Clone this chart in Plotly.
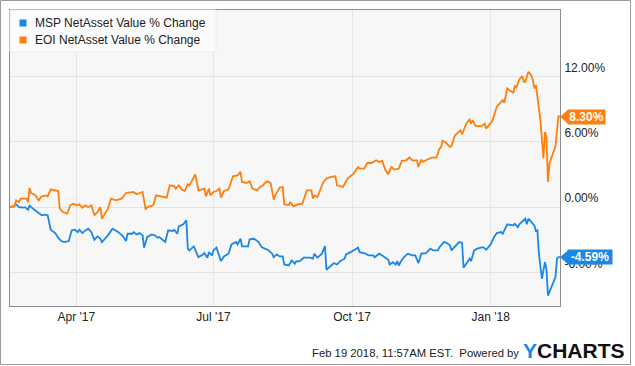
import plotly.graph_objects as go

# ---- data ----
eoi_dates = [
    "2017-02-16","2017-02-19","2017-02-20","2017-02-22","2017-02-23","2017-02-27","2017-02-28","2017-03-01",
    "2017-03-02","2017-03-05","2017-03-07","2017-03-09","2017-03-12","2017-03-13","2017-03-15","2017-03-19",
    "2017-03-20","2017-03-21","2017-03-23","2017-03-26","2017-03-28","2017-03-30","2017-04-01","2017-04-03",
    "2017-04-05","2017-04-07","2017-04-09","2017-04-11","2017-04-13","2017-04-15","2017-04-17","2017-04-18",
    "2017-04-20","2017-04-22","2017-04-24","2017-04-27","2017-05-01","2017-05-04","2017-05-09","2017-05-11",
    "2017-05-13","2017-05-15","2017-05-17","2017-05-18","2017-05-20","2017-05-22","2017-05-24","2017-05-28",
    "2017-05-31","2017-06-02","2017-06-05","2017-06-06","2017-06-08","2017-06-10","2017-06-12","2017-06-14",
    "2017-06-15","2017-06-19","2017-06-21","2017-06-23","2017-06-25","2017-06-26","2017-06-28","2017-06-29",
    "2017-07-01","2017-07-03","2017-07-05","2017-07-06","2017-07-08","2017-07-11","2017-07-14","2017-07-17",
    "2017-07-19","2017-07-20","2017-07-23","2017-07-25","2017-07-27","2017-07-30","2017-08-01","2017-08-03",
    "2017-08-04","2017-08-06","2017-08-08","2017-08-10","2017-08-11","2017-08-14","2017-08-16","2017-08-17",
    "2017-08-20","2017-08-21","2017-08-23","2017-08-26","2017-08-29","2017-09-01","2017-09-04","2017-09-05",
    "2017-09-06","2017-09-08","2017-09-12","2017-09-14","2017-09-17","2017-09-20","2017-09-21","2017-09-25",
    "2017-09-28","2017-10-02","2017-10-05","2017-10-06","2017-10-09","2017-10-11","2017-10-14","2017-10-17",
    "2017-10-19","2017-10-21","2017-10-23","2017-10-25","2017-10-27","2017-10-29","2017-11-01","2017-11-03",
    "2017-11-06","2017-11-08","2017-11-10","2017-11-13","2017-11-14","2017-11-16","2017-11-17","2017-11-20",
    "2017-11-23","2017-11-26","2017-11-28","2017-11-29","2017-11-30","2017-12-02","2017-12-05","2017-12-06",
    "2017-12-08","2017-12-10","2017-12-12","2017-12-13","2017-12-16","2017-12-18","2017-12-19","2017-12-20",
    "2017-12-22","2017-12-26","2017-12-28","2017-12-29","2017-12-31","2018-01-02","2018-01-05","2018-01-07",
    "2018-01-08","2018-01-09","2018-01-10","2018-01-12","2018-01-14","2018-01-16","2018-01-17","2018-01-18",
    "2018-01-20","2018-01-22","2018-01-23","2018-01-24","2018-01-26","2018-01-28","2018-01-29","2018-01-30",
    "2018-01-31","2018-02-03","2018-02-05","2018-02-06","2018-02-07","2018-02-08","2018-02-09","2018-02-11",
    "2018-02-13","2018-02-15","2018-02-16",
]
eoi_nav = [
    0.00, 0.07, 0.62, 0.47, 0.78, 0.78, 0.47, 1.76,
    1.30, 1.08, 0.62, 0.99, 1.08, 0.99, 1.64, 1.54,
    1.48, -0.14, -0.45, -0.60, 0.17, 0.32, 0.17, 0.26,
    -0.05, 0.17, 0.00, 0.17, -0.75, -0.45, 0.00, -1.06,
    -0.60, -0.14, 0.78, 0.62, 0.78, 1.30, 1.39, 1.18,
    1.30, 1.39, -0.23, 0.00, 0.10, 0.17, 1.08, 0.99,
    0.87, 2.00, 1.94, 1.70, 2.00, 1.61, 1.48, 2.10,
    1.98, 3.00, 1.54, 1.61, 1.70, 0.99, 1.70, 1.08,
    1.39, 1.48, 1.70, 0.87, 1.48, 1.64, 2.83, 2.92,
    3.23, 2.31, 2.22, 2.37, 1.70, 1.54, 1.85, 2.00,
    2.22, 2.37, 2.22, 0.69, 1.08, 1.79, 1.85, 0.26,
    0.17, 0.47, 0.07, 0.26, 0.32, 1.54, 1.54, 0.78,
    1.08, 0.93, 2.31, 2.62, 2.77, 2.83, 2.00, 1.85,
    2.62, 3.08, 3.69, 3.54, 3.54, 4.05, 4.05, 4.30,
    4.15, 4.24, 3.45, 3.01, 3.69, 3.45, 3.54, 4.24,
    4.30, 4.55, 4.30, 4.30, 3.69, 4.37, 4.15, 4.37,
    4.55, 4.55, 5.38, 5.47, 6.08, 5.95, 5.52, 5.59,
    6.50, 6.81, 7.06, 6.69, 7.73, 8.04, 7.67, 7.98,
    7.43, 7.43, 7.67, 7.21, 7.61, 7.91, 9.20, 9.51,
    9.57, 9.82, 9.57, 10.89, 10.67, 10.49, 11.10, 10.98,
    11.72, 12.02, 11.50, 11.50, 12.42, 12.11, 11.65, 10.89,
    11.19, 7.98, 4.46, 6.90, 6.39, 2.31, 4.00, 4.76,
    5.59, 8.35, 8.30,
]

msp_dates = [
    "2017-02-16","2017-02-18","2017-02-20","2017-02-22","2017-02-25","2017-02-26","2017-02-28","2017-03-01",
    "2017-03-02","2017-03-05","2017-03-07","2017-03-09","2017-03-11","2017-03-13","2017-03-15","2017-03-17",
    "2017-03-18","2017-03-20","2017-03-22","2017-03-24","2017-03-27","2017-03-29","2017-03-31","2017-04-02",
    "2017-04-03","2017-04-05","2017-04-07","2017-04-09","2017-04-11","2017-04-13","2017-04-15","2017-04-17",
    "2017-04-18","2017-04-20","2017-04-22","2017-04-25","2017-04-29","2017-05-02","2017-05-04","2017-05-05",
    "2017-05-08","2017-05-09","2017-05-11","2017-05-13","2017-05-15","2017-05-16","2017-05-18","2017-05-21",
    "2017-05-23","2017-05-25","2017-05-26","2017-05-30","2017-06-01","2017-06-04","2017-06-05","2017-06-07",
    "2017-06-08","2017-06-11","2017-06-13","2017-06-14","2017-06-15","2017-06-18","2017-06-21","2017-06-24",
    "2017-06-25","2017-06-27","2017-06-28","2017-06-30","2017-07-01","2017-07-03","2017-07-06","2017-07-08",
    "2017-07-11","2017-07-13","2017-07-16","2017-07-17","2017-07-19","2017-07-20","2017-07-24","2017-07-25",
    "2017-07-28","2017-07-31","2017-08-02","2017-08-04","2017-08-06","2017-08-09","2017-08-10","2017-08-12",
    "2017-08-14","2017-08-16","2017-08-17","2017-08-20","2017-08-22","2017-08-24","2017-08-25","2017-08-27",
    "2017-08-30","2017-09-03","2017-09-05","2017-09-06","2017-09-08","2017-09-11","2017-09-13","2017-09-14",
    "2017-09-16","2017-09-19","2017-09-21","2017-09-23","2017-09-26","2017-09-27","2017-09-30","2017-10-02",
    "2017-10-05","2017-10-06","2017-10-10","2017-10-12","2017-10-15","2017-10-16","2017-10-19","2017-10-22",
    "2017-10-25","2017-10-26","2017-10-28","2017-10-30","2017-10-31","2017-11-01","2017-11-03","2017-11-05",
    "2017-11-07","2017-11-10","2017-11-12","2017-11-14","2017-11-16","2017-11-19","2017-11-22","2017-11-24",
    "2017-11-27","2017-11-28","2017-12-01","2017-12-03","2017-12-05","2017-12-06","2017-12-08","2017-12-11",
    "2017-12-13","2017-12-14","2017-12-16","2017-12-18","2017-12-19","2017-12-21","2017-12-23","2017-12-26",
    "2017-12-27","2017-12-29","2018-01-01","2018-01-03","2018-01-05","2018-01-08","2018-01-09","2018-01-12",
    "2018-01-14","2018-01-16","2018-01-17","2018-01-19","2018-01-20","2018-01-22","2018-01-24","2018-01-25",
    "2018-01-26","2018-01-28","2018-01-30","2018-01-31","2018-02-01","2018-02-02","2018-02-04","2018-02-06",
    "2018-02-07","2018-02-08","2018-02-10","2018-02-12","2018-02-13","2018-02-14","2018-02-15","2018-02-16",
]
msp_nav = [
    0.00, 0.07, 0.26, 0.00, -0.05, 0.00, -0.23, 0.17,
    0.00, -0.29, -0.54, -0.75, -0.69, -0.75, -2.07, -2.29,
    -2.38, -2.80, -3.11, -3.20, -3.11, -2.13, -2.07, -2.29,
    -2.07, -2.38, -2.13, -1.98, -2.29, -2.99, -2.68, -2.90,
    -3.20, -2.90, -2.59, -1.98, -2.29, -2.68, -3.11, -2.44,
    -2.44, -2.29, -2.50, -2.38, -2.59, -3.72, -2.75, -2.50,
    -2.59, -2.80, -2.75, -3.20, -2.13, -2.19, -2.07, -2.44,
    -1.76, -1.58, -1.21, -3.81, -3.97, -3.60, -4.59, -4.34,
    -4.22, -4.64, -4.13, -4.43, -3.97, -3.72, -4.95, -4.52,
    -4.27, -3.42, -3.20, -3.42, -2.90, -3.60, -3.60, -2.96,
    -2.90, -3.20, -3.67, -3.81, -3.91, -4.27, -4.59, -4.34,
    -4.52, -4.52, -5.26, -5.35, -4.89, -5.19, -4.95, -4.98,
    -4.64, -4.64, -4.73, -4.27, -4.64, -4.27, -3.57, -5.74,
    -5.51, -5.14, -5.26, -4.95, -4.73, -4.34, -4.13, -3.97,
    -3.72, -4.13, -4.27, -4.43, -4.43, -4.59, -4.27, -4.52,
    -4.83, -5.26, -5.05, -5.26, -4.95, -5.35, -4.83, -4.52,
    -4.27, -4.43, -4.43, -5.14, -4.27, -4.22, -3.81, -3.97,
    -3.97, -3.67, -3.20, -3.29, -3.51, -3.97, -3.67, -3.20,
    -3.26, -5.56, -5.14, -4.73, -4.95, -3.97, -3.81, -3.72,
    -3.67, -3.91, -3.42, -2.80, -2.38, -2.29, -2.44, -1.58,
    -1.61, -1.67, -1.52, -1.83, -1.58, -1.28, -1.06, -1.58,
    -1.06, -1.37, -1.67, -2.19, -2.13, -4.27, -6.57, -5.05,
    -5.65, -8.11, -7.49, -6.79, -6.42, -4.73, -4.59, -4.59,
]

series_names = ["MSP NetAsset Value % Change", "EOI NetAsset Value % Change"]
series_colors = ["#1b87e6", "#ff7f0e"]
end_labels = ["-4.59%", "8.30%"]

x_tick_vals = ["2017-04-01", "2017-07-01", "2017-10-01", "2018-01-01"]
x_tick_text = ["Apr '17", "Jul '17", "Oct '17", "Jan '18"]
y_tick_vals = [-6, 0, 6, 12]
y_tick_text = ["-6.00%", "0.00%", "6.00%", "12.00%"]

FONT = "Liberation Sans, Arial, sans-serif"

fig = go.Figure()
fig.add_trace(go.Scatter(x=msp_dates, y=msp_nav, mode="lines", name=series_names[0],
                         line=dict(color=series_colors[0], width=1.8), showlegend=False))
fig.add_trace(go.Scatter(x=eoi_dates, y=eoi_nav, mode="lines", name=series_names[1],
                         line=dict(color=series_colors[1], width=1.8), showlegend=False))

shapes = []
annotations = []

# legend box (top-left inside the plot)
shapes.append(dict(type="rect", xref="paper", yref="paper", x0=0, x1=206/550, y0=1 - 42/296, y1=1,
                   fillcolor="rgba(252,252,252,0.9)", line=dict(color="#ececec", width=1), layer="above"))
for i, (name, col) in enumerate(zip(series_names, series_colors)):
    ypx = 13 + 17 * i  # px below plot top
    yp = 1 - ypx / 296
    shapes.append(dict(type="rect", xref="paper", yref="paper", xsizemode="pixel", ysizemode="pixel",
                       xanchor=13 / 550, yanchor=yp, x0=-3.5, x1=3.5, y0=-3.5, y1=3.5,
                       fillcolor=col, line=dict(width=0), layer="above"))
    annotations.append(dict(text=name, xref="paper", yref="paper", x=23 / 550, y=yp,
                            xanchor="left", yanchor="middle", showarrow=False,
                            font=dict(family=FONT, size=12, color="#222")))

# end-value tags on the right axis
for vals, col, lab in zip([msp_nav, eoi_nav], series_colors, end_labels):
    yv = vals[-1]
    shapes.append(dict(type="path", xref="paper", yref="y", xsizemode="pixel", ysizemode="pixel",
                       xanchor=1, yanchor=yv, path="M0,0 L8,7 L8,-7 Z",
                       fillcolor=col, line=dict(width=0), layer="above"))
    annotations.append(dict(text="<b>" + lab + "</b>", xref="paper", yref="y", x=1, y=yv,
                            xanchor="left", yanchor="middle", xshift=7, showarrow=False,
                            bgcolor=col, borderpad=0, height=14, width=len(lab) * 7 + 2,
                            font=dict(family=FONT, size=12, color="white")))

# outer frame
shapes.append(dict(type="rect", xref="paper", yref="paper",
                   x0=-9.5 / 550, x1=620.5 / 550, y0=-58.5 / 296, y1=1 + 9.5 / 296,
                   line=dict(color="#9a9a9a", width=1), fillcolor="rgba(0,0,0,0)", layer="below"))

# footer
annotations.append(dict(text="Feb 19 2018, 11:57AM EST.  Powered by", xref="paper", yref="paper",
                        x=511 / 550, y=-47 / 296, xanchor="right", yanchor="middle", showarrow=False,
                        font=dict(family=FONT, size=11.3, color="#222")))
annotations.append(dict(text="<b><span style='color:#1a8ce8'>Y</span>CHARTS</b>", xref="paper", yref="paper",
                        x=511 / 550, y=-44 / 296, xanchor="left", yanchor="middle", showarrow=False,
                        font=dict(family=FONT, size=21, color="#111")))

fig.update_layout(
    width=635, height=366,
    margin=dict(l=10, r=75, t=10, b=60),
    paper_bgcolor="white", plot_bgcolor="#f7f7f7",
    showlegend=False,
    shapes=shapes, annotations=annotations,
    font=dict(family=FONT, size=12, color="#222"),
    xaxis=dict(type="date", range=["2017-02-16", "2018-02-16"],
               tickmode="array", tickvals=x_tick_vals, ticktext=x_tick_text,
               showgrid=True, gridcolor="#e4e4e4", gridwidth=1,
               showline=True, linecolor="#8c8c8c", linewidth=1, mirror=True,
               ticks="", zeroline=False, fixedrange=True),
    yaxis=dict(side="right", range=[-9.07, 18.09],
               tickmode="array", tickvals=y_tick_vals, ticktext=y_tick_text,
               showgrid=True, gridcolor="#e4e4e4", gridwidth=1,
               showline=True, linecolor="#8c8c8c", linewidth=1, mirror=True,
               ticks="", zeroline=False, ticklabelshift=-9, ticklabelstandoff=1, fixedrange=True),
)

fig.write_html("out.html", config={"displayModeBar": False},
               post_script="document.body.style.margin='0';")
